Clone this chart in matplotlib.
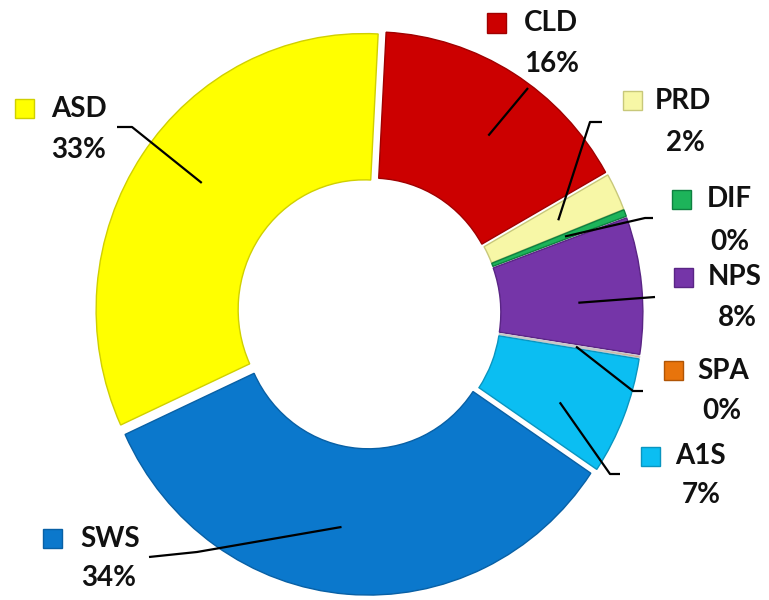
import matplotlib
matplotlib.use("Agg")
import matplotlib.pyplot as plt
from matplotlib.patches import Rectangle
import numpy as np

# ---- data ----
categories = ["CLD", "PRD", "DIF", "NPS", "SPA", "A1S", "SWS", "ASD"]
values = [16.0, 2.2, 0.4, 8.0, 0.1, 6.9, 33.7, 32.7]
colors = ["#CC0000", "#F7F7A6", "#1DB45A", "#7535A8", "#E8740C", "#0BBEF2", "#0B78CC", "#FFFF00"]
edge_colors = ["#A00000", "#C8C87A", "#0E8040", "#5A2585", "#C8C8C8", "#0995C0", "#0860A5", "#D0D000"]
marker_edges = ["#A00000", "#C8C87A", "#0E8040", "#5A2585", "#B05505", "#0995C0", "#0860A5", "#D0D000"]

# ---- layout (pixel positions of labels, leader-line ends) ----
W, H = 769, 600
CX, CY = 369, 313
RX, RY = 268, 276

def px(x, y):
    return ((x - CX) / RX, (CY - y) / RY)

name_pos = {"CLD": (551, 23), "PRD": (683, 101), "DIF": (729, 199), "NPS": (735, 277),
            "SPA": (723, 371), "A1S": (700, 456), "SWS": (110, 539), "ASD": (79, 109)}
marker_pos = {"CLD": (497, 23), "PRD": (632, 100), "DIF": (681, 199), "NPS": (683, 277),
              "SPA": (673, 370), "A1S": (650, 456), "SWS": (53, 538), "ASD": (25, 108)}
pct_pos = {"CLD": (552, 64), "PRD": (685, 143), "DIF": (730, 242), "NPS": (737, 318),
           "SPA": (722, 411), "A1S": (701, 495), "SWS": (109, 578), "ASD": (79, 150)}
leader_pts = {"CLD": [(528, 88)],
              "PRD": [(590, 122), (602, 122)],
              "DIF": [(645, 218), (653, 218)],
              "NPS": [(655, 297)],
              "SPA": [(633, 391), (643, 391)],
              "A1S": [(610, 474), (620, 474)],
              "SWS": [(197, 552), (149, 557)],
              "ASD": [(132, 127), (117, 127)]}

explode_amt = 0.022
ring_width = 0.53

fig = plt.figure(figsize=(W / 100, H / 100), dpi=100)
ax = fig.add_axes([0, 0, 1, 1])
wedges, _ = ax.pie(values, colors=colors, startangle=87, counterclock=False,
                   explode=[explode_amt] * len(values), radius=1.0, center=(0, 0),
                   wedgeprops=dict(width=ring_width, linewidth=1.0))
for w, ec in zip(wedges, edge_colors):
    w.set_edgecolor(ec)

ax.set_aspect("auto")
ax.set_xlim(-CX / RX, (W - CX) / RX)
ax.set_ylim(-(H - CY) / RY, CY / RY)
ax.axis("off")

font = dict(family=["Lato", "DejaVu Sans"], fontweight="bold", fontsize=20, color="#111111")
total = sum(values)
r_start = 0.76
for w, cat, val, col, mec in zip(wedges, categories, values, colors, marker_edges):
    shift = -3.0 if val > 5 else 0.0
    ang = np.deg2rad((w.theta1 + w.theta2) / 2 + shift)
    cx0, cy0 = w.center
    sx = cx0 + r_start * np.cos(ang)
    sy = cy0 + r_start * np.sin(ang)
    pts = [(sx, sy)] + [px(*p) for p in leader_pts[cat]]
    xs, ys = zip(*pts)
    ax.plot(xs, ys, color="black", lw=1.6, solid_capstyle="butt", zorder=5)

    nx, ny = px(*name_pos[cat])
    ax.text(nx, ny, cat, ha="center", va="center", **font)
    qx, qy = px(*pct_pos[cat])
    ax.text(qx, qy, f"{round(val / total * 100):d}%", ha="center", va="center", **font)
    mx, my = px(*marker_pos[cat])
    mw, mh = 19 / RX, 19 / RY
    ax.add_patch(Rectangle((mx - mw / 2, my - mh / 2), mw, mh, facecolor=col,
                           edgecolor=mec, lw=1.0, zorder=6))

fig.savefig("out.png", dpi=100)
